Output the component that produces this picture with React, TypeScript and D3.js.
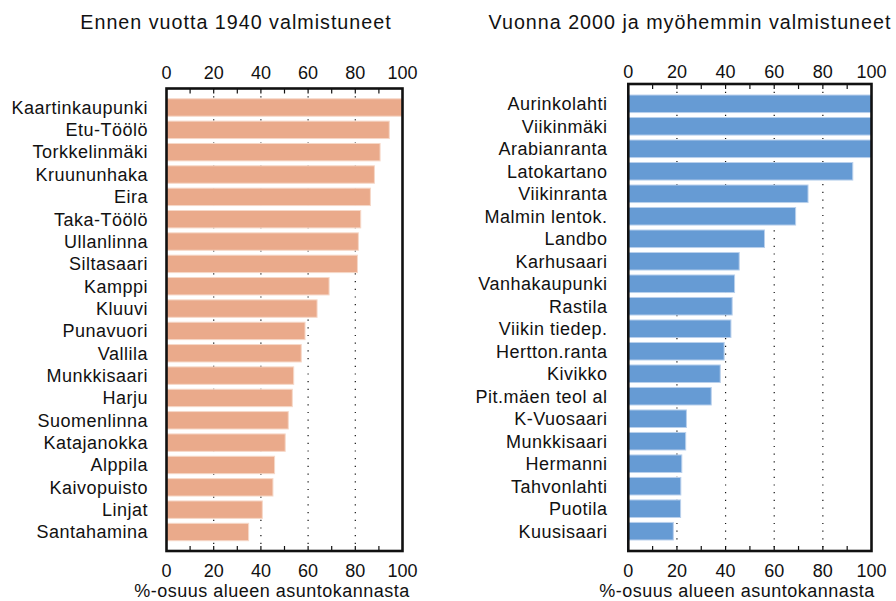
import React from "react";
import * as d3 from "d3";

const leftTitle = "Ennen vuotta 1940 valmistuneet";
const rightTitle = "Vuonna 2000 ja myöhemmin valmistuneet";
const axisTitle = "%-osuus alueen asuntokannasta";

const leftCategories = [
  "Kaartinkaupunki", "Etu-Töölö", "Torkkelinmäki", "Kruununhaka", "Eira",
  "Taka-Töölö", "Ullanlinna", "Siltasaari", "Kamppi", "Kluuvi",
  "Punavuori", "Vallila", "Munkkisaari", "Harju", "Suomenlinna",
  "Katajanokka", "Alppila", "Kaivopuisto", "Linjat", "Santahamina",
];
const leftValues = [
  100, 94.4, 90.5, 88.1, 86.4, 82.3, 81.3, 80.9, 68.9, 63.8,
  58.7, 57.1, 53.9, 53.3, 51.6, 50.3, 45.8, 45.1, 40.6, 34.8,
];

const rightCategories = [
  "Aurinkolahti", "Viikinmäki", "Arabianranta", "Latokartano", "Viikinranta",
  "Malmin lentok.", "Landbo", "Karhusaari", "Vanhakaupunki", "Rastila",
  "Viikin tiedep.", "Hertton.ranta", "Kivikko", "Pit.mäen teol al", "K-Vuosaari",
  "Munkkisaari", "Hermanni", "Tahvonlahti", "Puotila", "Kuusisaari",
];
const rightValues = [
  100, 100, 100, 92.3, 73.9, 68.8, 56.0, 45.6, 43.7, 42.7,
  42.2, 39.4, 37.8, 34.1, 23.9, 23.6, 22.0, 21.6, 21.5, 18.5,
];

const majorTicks = [0, 20, 40, 60, 80, 100];
const minorTicks = [10, 20, 30, 40, 50, 60, 70, 80, 90];
const gridTicks = [20, 40, 60, 80];

const FONT = "'Liberation Sans', Arial, Helvetica, sans-serif";

type PanelProps = {
  categories: string[];
  values: number[];
  x0: number;
  x1: number;
  y0: number;
  y1: number;
  padOuter: number;
  fill: string;
  stroke: string;
  title: string;
  titleX: number;
  axisTitleX: number;
  topLabelY: number;
  labelRight: number;
};

function Panel(p: PanelProps) {
  const x = d3.scaleLinear().domain([0, 100]).range([p.x0, p.x1]);
  const y = d3
    .scaleBand<string>()
    .domain(p.categories)
    .range([p.y0, p.y1])
    .paddingInner(0.22)
    .paddingOuter(p.padOuter);
  const fs = 18;
  const ls = 0.5;
  return (
    <g fontFamily={FONT} fill="#111">
      <text x={p.titleX} y={29} textAnchor="middle" fontSize={19.7} letterSpacing={1}>
        {p.title}
      </text>
      {gridTicks.map((t) => (
        <line
          key={"g" + t}
          x1={x(t)}
          x2={x(t)}
          y1={p.y0}
          y2={p.y1}
          stroke="#111"
          strokeWidth={1.2}
          strokeDasharray="1.2,6.5"
        />
      ))}
      {p.categories.map((c, i) => (
        <rect
          key={c}
          x={x(0)}
          y={y(c)}
          width={x(p.values[i]) - x(0)}
          height={y.bandwidth()}
          fill={p.fill}
          stroke={p.stroke}
          strokeWidth={1}
        />
      ))}
      {p.categories.map((c) => (
        <text
          key={"l" + c}
          x={p.labelRight}
          y={(y(c) as number) + y.bandwidth() / 2}
          dy="0.35em"
          textAnchor="end"
          fontSize={fs}
          letterSpacing={ls}
        >
          {c}
        </text>
      ))}
      {minorTicks.map((t) => (
        <g key={"m" + t}>
          <line x1={x(t)} x2={x(t)} y1={p.y0} y2={p.y0 + 5} stroke="#111" strokeWidth={1.2} />
          <line x1={x(t)} x2={x(t)} y1={p.y1} y2={p.y1 - 5} stroke="#111" strokeWidth={1.2} />
        </g>
      ))}
      <rect
        x={p.x0}
        y={p.y0}
        width={p.x1 - p.x0}
        height={p.y1 - p.y0}
        fill="none"
        stroke="#111"
        strokeWidth={2.6}
      />
      {majorTicks.map((t) => (
        <g key={"t" + t}>
          <text x={x(t)} y={p.topLabelY} textAnchor="middle" fontSize={fs}>
            {t}
          </text>
          <text x={x(t)} y={577} textAnchor="middle" fontSize={fs}>
            {t}
          </text>
        </g>
      ))}
      <text x={p.axisTitleX} y={597} textAnchor="middle" fontSize={fs} letterSpacing={ls}>
        {axisTitle}
      </text>
    </g>
  );
}

export default function App() {
  return (
    <div style={{ position: "absolute", left: 0, top: 0 }}>
      <svg width={896} height={601} style={{ display: "block", background: "#fff" }}>
        <rect width={896} height={601} fill="#fff" />
        <Panel
          categories={leftCategories}
          values={leftValues}
          x0={166.5}
          x1={402.5}
          y0={88.5}
          y1={551}
          padOuter={0.46}
          fill="#EAAA8B"
          stroke="#F6D8C8"
          title={leftTitle}
          titleX={236}
          axisTitleX={272}
          topLabelY={79}
          labelRight={148}
        />
        <Panel
          categories={rightCategories}
          values={rightValues}
          x0={628.3}
          x1={871.5}
          y0={84}
          y1={551}
          padOuter={0.49}
          fill="#669BD4"
          stroke="#B9D0EC"
          title={rightTitle}
          titleX={690}
          axisTitleX={737}
          topLabelY={78}
          labelRight={607.5}
        />
      </svg>
    </div>
  );
}
